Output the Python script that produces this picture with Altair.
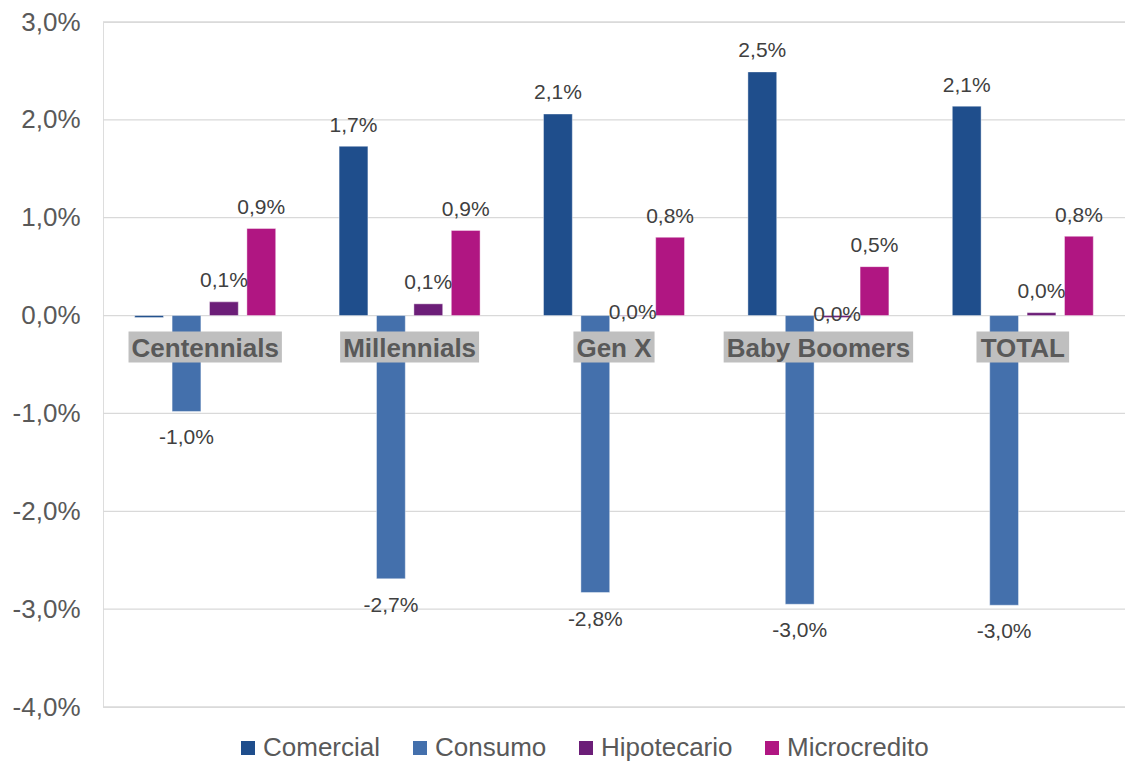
import altair as alt
import pandas as pd

# ---------------- data ----------------
categories = ["Centennials", "Millennials", "Gen X", "Baby Boomers", "TOTAL"]
series = ["Comercial", "Consumo", "Hipotecario", "Microcredito"]
comercial = [-0.02, 1.73, 2.06, 2.49, 2.14]
consumo = [-0.98, -2.69, -2.83, -2.95, -2.96]
hipotecario = [0.14, 0.12, -0.005, -0.02, 0.03]
microcredito = [0.89, 0.87, 0.80, 0.50, 0.81]
y_ticks = [-4, -3, -2, -1, 0, 1, 2, 3]
colors = ["#1F4E8C", "#4470AC", "#6C1E78", "#B01682"]

# ---------------- layout / style ----------------
W, H = 1022, 685
PAD_L, PAD_T, PAD_B = 95, 14, 56
FONT = "Liberation Sans"


def fmt(v):
    r = round(v, 1)
    if r == 0:
        r = 0.0
    return f"{r:.1f}".replace(".", ",") + "%"


def label_pos(s, v):
    if v >= 0:
        return "above"
    if v <= -0.5:
        return "below"
    if s == "Hipotecario":
        return "middle"
    return "none"


rows = []
for s, vals in zip(series, [comercial, consumo, hipotecario, microcredito]):
    for c, v in zip(categories, vals):
        rows.append({"cat": c, "series": s, "v": v, "label": fmt(v), "pos": label_pos(s, v)})
df = pd.DataFrame(rows)
grid_df = pd.DataFrame({"v": y_ticks})

# approximate Arial Bold advance widths (per 1000 em) for the category boxes
BOLD_W = {"C": 722, "e": 556, "n": 611, "t": 333, "i": 278, "a": 556, "l": 278, "s": 556,
          "M": 833, "G": 778, " ": 278, "X": 667, "B": 722, "b": 611, "y": 556, "o": 611,
          "m": 889, "r": 389, "T": 611, "O": 778, "A": 722, "L": 611}
CAT_FS = 26


def text_w(s):
    return sum(BOLD_W.get(ch, 600) for ch in s) * CAT_FS / 1000.0


cat_df = pd.DataFrame({"cat": categories, "w": [text_w(c) + 6 for c in categories]})

yaxis = alt.Axis(values=y_ticks, title=None, ticks=False, domain=False, grid=False,
                 labelExpr="replace(replace(format(datum.value, '.1f'), '.', ','), '\u2212', '-') + '%'",
                 labelFont=FONT, labelFontSize=26, labelColor="#595959", labelPadding=23)
yscale = alt.Scale(domain=[-4, 3], nice=False, zero=False)
X = alt.X("cat:N", sort=categories, axis=None,
          scale=alt.Scale(paddingInner=0.27, paddingOuter=0.135))
XO = alt.XOffset("series:N", sort=series,
                 scale=alt.Scale(paddingInner=0.23, paddingOuter=0.11))
Y = alt.Y("v:Q", scale=yscale, axis=yaxis)

grid = alt.Chart(grid_df).mark_rule(color="#D9D9D9", strokeWidth=1.3).encode(y=Y)

base = alt.Chart(df)

bars = base.mark_bar(stroke="white", strokeOpacity=0.5, strokeWidth=0.8).encode(
    x=X, xOffset=XO, y=Y,
    color=alt.Color("series:N", sort=series,
                    scale=alt.Scale(domain=series, range=colors),
                    legend=alt.Legend(orient="none", legendX=132, legendY=713,
                                      direction="horizontal", columns=4, title=None,
                                      symbolType="square", symbolSize=196,
                                      symbolStrokeWidth=0, labelFont=FONT,
                                      labelFontSize=26, labelColor="#595959",
                                      labelOffset=2, columnPadding=26, padding=0)),
)

boxes = alt.Chart(cat_df).mark_bar(color="#BFBFBF", yOffset=16, y2Offset=47).encode(
    x=alt.X("cat:N", sort=categories, axis=None),
    y=alt.YDatum(0, scale=yscale, axis=yaxis),
    y2=alt.Y2Datum(0),
    size=alt.Size("w:Q", scale=None, legend=None),
)

cat_text = alt.Chart(cat_df).mark_text(font=FONT, fontSize=CAT_FS, fontWeight="bold",
                                       color="#595959", baseline="alphabetic", dy=41).encode(
    x=alt.X("cat:N", sort=categories, axis=None),
    y=alt.YDatum(0, scale=yscale, axis=yaxis),
    text="cat:N",
)


def labels(pos, dy):
    return base.transform_filter(alt.datum.pos == pos).mark_text(
        font=FONT, fontSize=21, color="#404040", baseline="alphabetic", dy=dy
    ).encode(x=X, xOffset=XO, y=Y, text="label:N")


chart = alt.layer(
    grid, bars, boxes, cat_text,
    labels("above", -14.5), labels("below", 33), labels("middle", 3),
).properties(
    width=W, height=H,
    padding={"left": PAD_L, "top": PAD_T, "right": 0, "bottom": PAD_B},
    autosize=alt.AutoSizeParams(type="none"),
).configure_view(stroke=None).configure(background="white").configure_axis(
    domain=False, ticks=False, grid=False
)

chart.save("out.html", embed_options={"renderer": "svg", "actions": False})
